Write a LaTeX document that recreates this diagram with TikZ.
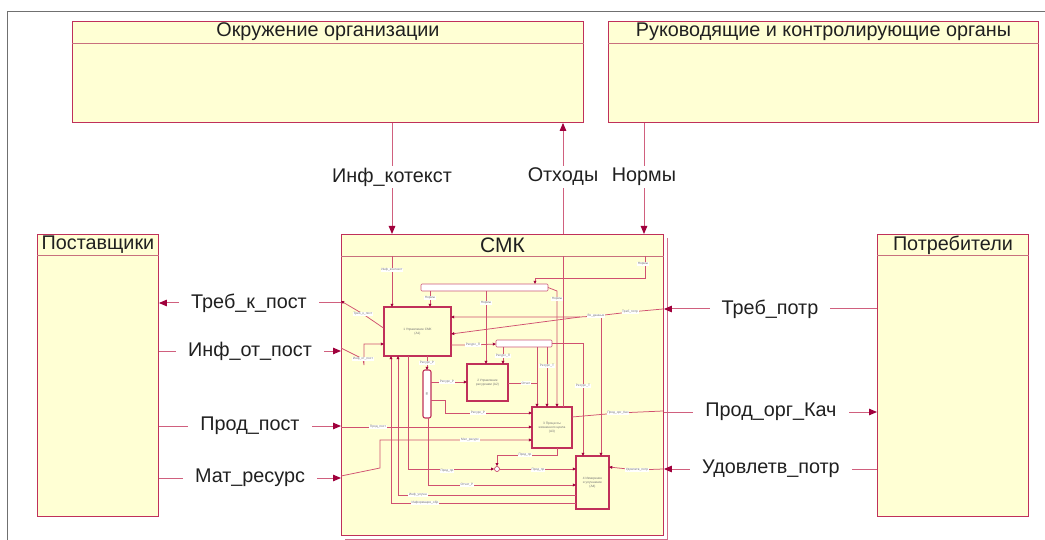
\documentclass[tikz,border=0pt]{standalone}
\usepackage{fontspec}
\setmainfont{Liberation Sans}
\usetikzlibrary{arrows.meta}
\definecolor{boxfill}{HTML}{FFFFD4}
\definecolor{boxline}{HTML}{C0305A}
\definecolor{hdrline}{HTML}{C8707E}
\definecolor{connc}{HTML}{D0607E}
\definecolor{iconnc}{HTML}{D05070}
\definecolor{tipc}{HTML}{A0003C}
\definecolor{framegray}{HTML}{707070}
\definecolor{labc}{HTML}{202020}
\begin{document}
\begin{tikzpicture}[x=1pt,y=-1pt,
  ent/.style={draw=boxline, line width=0.9pt, fill=boxfill, anchor=north west, inner sep=0pt},
  hdr/.style={draw=hdrline, line width=0.6pt},
  ttl/.style={font=\fontsize{19.8}{22}\selectfont, text=labc, inner sep=0pt},
  lbl/.style={font=\fontsize{19.8}{22}\selectfont, text=labc, fill=white, inner xsep=12pt, inner ysep=2pt},
  conn/.style={draw=connc, line width=1pt},
  arr/.style={-{Triangle[length=8pt,width=6.5pt,color=tipc]}},
  ibox/.style={draw=boxline, line width=1.1pt, fill=boxfill, inner sep=0pt, font=\fontsize{3.2}{3.8}\selectfont, text=black!55, align=center},
  bar/.style={draw=boxline!80, line width=0.6pt, fill=white, rounded corners=1pt},
  iconn/.style={draw=iconnc, line width=0.75pt},
  iarr/.style={-{Triangle[length=3.2pt,width=2.8pt,color=tipc]}},
  tl/.style={font=\fontsize{3.2}{3.6}\selectfont, text=black!55, fill=white, inner sep=0.7pt},
]
\useasboundingbox (0,0) rectangle (1045,540);
\fill[white] (0,0) rectangle (1045,540);
\draw[framegray, line width=1pt] (7,540) -- (7,12) -- (1045,12);

% ---------- main entities ----------
\node[ent, minimum width=511pt, minimum height=101pt] (env) at (72,21) {};
\node[ent, minimum width=430pt, minimum height=101pt] (ruk) at (608,21) {};
\node[ent, minimum width=121pt, minimum height=282pt] (sup) at (37,234) {};
\node[ent, minimum width=151pt, minimum height=282pt] (cons) at (877,234) {};
\draw[boxline!70, line width=0.8pt] (667,238) -- (667,539) -- (345,539);
\node[ent, minimum width=322pt, minimum height=301pt] (cmk) at (341,234) {};

\draw[hdr] ([yshift=-22pt]env.north west) -- ([yshift=-22pt]env.north east);
\draw[hdr] ([yshift=-22pt]ruk.north west) -- ([yshift=-22pt]ruk.north east);
\draw[hdr] ([yshift=-21pt]sup.north west) -- ([yshift=-21pt]sup.north east);
\draw[hdr] ([yshift=-21pt]cons.north west) -- ([yshift=-21pt]cons.north east);
\draw[hdr] ([yshift=-22pt]cmk.north west) -- ([yshift=-22pt]cmk.north east);

\node[ttl] (t_env) at ([yshift=-11pt]env.north) {Окружение организации};
\node[ttl] (t_ruk) at ([yshift=-11pt]ruk.north) {Руководящие и контролирующие органы};
\node[ttl] (t_sup) at ([yshift=-11pt]sup.north) {Поставщики};
\node[ttl] (t_cons) at ([yshift=-11pt]cons.north) {Потребители};
\node[ttl, font=\fontsize{21}{23}\selectfont] (t_cmk) at ([yshift=-11pt]cmk.north) {СМК};

% ---------- external connectors ----------
\coordinate (p_inf) at (392,177);
\coordinate (p_otx) at (563,177);
\coordinate (p_nor) at (644,177);
\coordinate (p_tkp) at (249,303);
\coordinate (p_iop) at (250,351);
\coordinate (p_pp)  at (250,426);
\coordinate (p_mr)  at (250,478);
\coordinate (p_tp)  at (770,309);
\coordinate (p_pok) at (771,412);
\coordinate (p_up)  at (771,469);

\draw[conn,arr] (env.south -| p_inf) -- (cmk.north -| p_inf);
\draw[conn,arr] (cmk.north -| p_otx) -- (env.south -| p_otx);
\draw[conn,arr] (ruk.south -| p_nor) -- (cmk.north -| p_nor);
\draw[conn,arr] (cmk.west |- p_tkp) -- (sup.east |- p_tkp);
\draw[conn,arr] (sup.east |- p_iop) -- (cmk.west |- p_iop);
\draw[conn,arr] (sup.east |- p_pp) -- (cmk.west |- p_pp);
\draw[conn,arr] (sup.east |- p_mr) -- (cmk.west |- p_mr);
\draw[conn,arr] (cons.west |- p_tp) -- (cmk.east |- p_tp);
\draw[conn,arr] (cmk.east |- p_pok) -- (cons.west |- p_pok);
\draw[conn,arr] (cons.west |- p_up) -- (cmk.east |- p_up);

\node[lbl, inner xsep=2pt] (l_inf) at (p_inf) {Инф\_котекст};
\node[lbl, inner xsep=2pt] (l_otx) at (p_otx) {Отходы};
\node[lbl, inner xsep=2pt] (l_nor) at (p_nor) {Нормы};
\node[lbl] (l_tkp) at (p_tkp) {Треб\_к\_пост};
\node[lbl] (l_iop) at (p_iop) {Инф\_от\_пост};
\node[lbl] (l_pp)  at (p_pp)  {Прод\_пост};
\node[lbl] (l_mr)  at (p_mr)  {Мат\_ресурс};
\node[lbl] (l_tp)  at (p_tp)  {Треб\_потр};
\node[lbl] (l_pok) at (p_pok) {Прод\_орг\_Кач};
\node[lbl] (l_up)  at (p_up)  {Удовлетв\_потр};

% ---------- internal decomposition of СМК ----------
\node[ibox, minimum width=67pt, minimum height=49pt] (A) at (417.5,331.5) {1 Управление СМК\\(А1)};
\node[ibox, minimum width=41pt, minimum height=37pt] (B) at (487.5,382.5) {2 Управление\\ресурсами (А2)};
\node[ibox, minimum width=40pt, minimum height=41pt] (C) at (552,427.5) {3 Процессы\\жизненного цикла\\(А3)};
\node[ibox, minimum width=33pt, minimum height=53pt] (D) at (592.5,482.5) {4 Измерение\\и улучшение\\(А4)};
\node[ibox, fill=white, rounded corners=2pt, minimum width=8pt, minimum height=48pt] (N) at (427,394) {};
\node[bar, minimum width=127pt, minimum height=7pt, inner sep=0pt] (bar1) at (484.5,287.5) {};
\node[bar, minimum width=56pt, minimum height=7pt, inner sep=0pt] (bar2) at (524,343.5) {};
\node[font=\fontsize{3}{3}\selectfont, text=black!55, rotate=90] (t_N) at (N) {ТП};
\node[circle, draw=boxline, fill=white, line width=0.6pt, minimum size=5pt, inner sep=0pt] (J) at (497,469) {};

% internal label positions
\coordinate (q_inf) at (392,270);
\coordinate (q_tkp) at (363,314);
\coordinate (q_iop) at (363,359);
\coordinate (q_n0) at (643,264);
\coordinate (q_nA) at (430,298);
\coordinate (q_nB) at (486,303);
\coordinate (q_nC) at (557,299);
\coordinate (q_tp) at (630,312);
\coordinate (q_vh) at (596,316);
\coordinate (q_rp) at (473,345);
\coordinate (q_rp2) at (503,356);
\coordinate (q_rt1) at (547,366);
\coordinate (q_rt2) at (583,386);
\coordinate (q_rr0) at (427,363);
\coordinate (q_rr1) at (447,382);
\coordinate (q_rr2) at (478,413);
\coordinate (q_rep) at (526,383);
\coordinate (q_pp) at (378,427);
\coordinate (q_mr) at (470,440);
\coordinate (q_pok) at (618,413);
\coordinate (q_up) at (637,470);
\coordinate (q_pr1) at (525,455);
\coordinate (q_pr2) at (538,470);
\coordinate (q_pr0) at (447,471);
\coordinate (q_ot) at (467,485);
\coordinate (q_iu) at (418,495);
\coordinate (q_ia) at (425,503);

\begin{scope}[iconn]
% Инф_контекст
\draw[iarr] (392,256) -- (392,307);
% Треб_к_пост (out of A)
\draw[iarr] (A.west |- 0,328) -- (q_tkp) -- (341,301);
% Инф_от_пост
\draw[iarr] (341,348) -- (q_iop) -- (364,365) -- (364,344) -- (384,344);
% Нормы
\draw[iarr] (645,256) -- (645,278) -- (535,278) -- (535,284);
\draw[iarr] (430,291) -- (430,307);
\draw[iarr] (486,291) -- (486,364);
\draw[iarr] (548,287.5) -- (557,291) -- (557,407);
% Отходы
\draw (563,407) -- (563,256);
% Треб_потр -> Вх_данные
\draw (663,309) -- (q_tp) -- (q_vh);
\draw[iarr] (q_vh) -- (580,317) -- (451,317);
\draw[iarr] (580,317) -- (451,334);
\draw[iarr] (601,318) -- (601,456);
% Ресурс_П
\draw[iarr] (451,345) -- (q_rp) -- (496,344);
\draw[iarr] (503,347) -- (503,364);
\draw[iarr] (537,347) -- (537,407);
\draw[iarr] (547,347) -- (547,407);
\draw[iarr] (552,343) -- (583,343) -- (583,456);
% Ресурс_Р
\draw[iarr] (427,356) -- (427,370);
\draw[iarr] (431,382) -- (467,382);
\draw[iarr] (431,400) -- (445,400) -- (445,413) -- (532,413);
\draw (508,383) -- (537,383);
% Прод_пост, Мат_ресурс
\draw[iarr] (341,427) -- (532,427);
\draw[iarr] (341,476) -- (380,468) -- (380,440) -- (532,440);
% Прод_орг_Кач, Удовлетв_потр
\draw (572,417) -- (q_pok) -- (663,411);
\draw[iarr] (663,469) -- (q_up) -- (609,467);
% Product flow
\draw[iarr] (557,448) -- (557,455) -- (497,455) -- (J.north);
\draw[iarr] (J.east) -- (576,469);
\draw[iarr] (408,356) -- (408,469) -- (J.west);
% Reports / feedback
\draw[iarr] (428,418) -- (428,485) -- (576,485);
\draw[iarr] (576,495) -- (398,495) -- (398,356);
\draw[iarr] (576,503) -- (391,503) -- (391,356);
\end{scope}

\node[tl] (k_inf) at (q_inf) {Инф\_контекст};
\node[tl] (k_tkp) at (q_tkp) {Треб\_к\_пост};
\node[tl] (k_iop) at (q_iop) {Инф\_от\_пост};
\node[tl] (k_n0) at (q_n0) {Нормы};
\node[tl] (k_nA) at (q_nA) {Нормы};
\node[tl] (k_nB) at (q_nB) {Нормы};
\node[tl] (k_nC) at (q_nC) {Нормы};
\node[tl] (k_tp) at (q_tp) {Треб\_потр};
\node[tl] (k_vh) at (q_vh) {Вх\_данные};
\node[tl] (k_rp) at (q_rp) {Ресурс\_П};
\node[tl] (k_rp2) at (q_rp2) {Ресурс\_П};
\node[tl] (k_rt1) at (q_rt1) {Ресурс\_Т};
\node[tl] (k_rt2) at (q_rt2) {Ресурс\_Т};
\node[tl] (k_rr0) at (q_rr0) {Ресурс\_Р};
\node[tl] (k_rr1) at (q_rr1) {Ресурс\_Р};
\node[tl] (k_rr2) at (q_rr2) {Ресурс\_Р};
\node[tl] (k_rep) at (q_rep) {Отчет};
\node[tl] (k_pp) at (q_pp) {Прод\_пост};
\node[tl] (k_mr) at (q_mr) {Мат\_ресурс};
\node[tl] (k_pok) at (q_pok) {Прод\_орг\_Кач};
\node[tl] (k_up) at (q_up) {Удовлетв\_потр};
\node[tl] (k_pr1) at (q_pr1) {Прод\_пр};
\node[tl] (k_pr2) at (q_pr2) {Прод\_пр};
\node[tl] (k_pr0) at (q_pr0) {Прод\_пр};
\node[tl] (k_ot) at (q_ot) {Отчет\_Р};
\node[tl] (k_iu) at (q_iu) {Инф\_улучш};
\node[tl] (k_ia) at (q_ia) {Информация\_обр};
\end{tikzpicture}
\end{document}
